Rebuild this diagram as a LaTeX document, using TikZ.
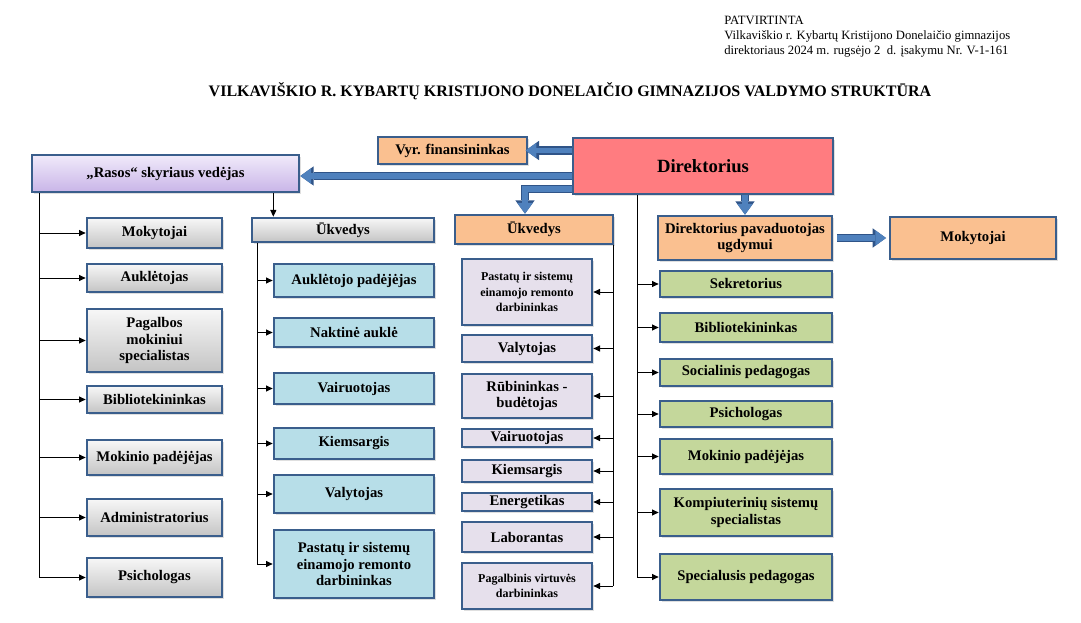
\documentclass[tikz,border=0pt]{standalone}
\usepackage{fontspec}
\setmainfont{Liberation Serif}
\usetikzlibrary{arrows.meta,calc,shadows}

\definecolor{edgeblue}{HTML}{3A5E8C}
\definecolor{arrowfill}{HTML}{4F81BD}
\definecolor{arrowedge}{HTML}{2F5488}
\definecolor{dirpink}{HTML}{FF7C80}
\definecolor{peach}{HTML}{FAC090}
\definecolor{lightblue}{HTML}{B7DEE8}
\definecolor{lavender}{HTML}{E6E0EC}
\definecolor{leafgreen}{HTML}{C4D79B}
\definecolor{grtop}{HTML}{F7F7F7}
\definecolor{grbot}{HTML}{C4C4C4}
\definecolor{rasostop}{HTML}{F0EAFA}
\definecolor{rasosbot}{HTML}{C9B5E8}

\def\px{0.75pt}

\tikzset{
  box/.style={draw=edgeblue, line width=2pt, inner sep=1pt, align=center,
    font=\bfseries\fontsize{11}{12.5}\selectfont,
    drop shadow={opacity=0.25, shadow xshift=1.2pt, shadow yshift=-1.2pt}},
  graybox/.style={box, top color=grtop, bottom color=grbot, minimum width=135*\px},
  bluebox/.style={box, fill=lightblue, minimum width=160*\px},
  lavbox/.style={box, fill=lavender, minimum width=130*\px},
  smalltext/.style={font=\bfseries\fontsize{9}{11.5}\selectfont},
  greenbox/.style={box, fill=leafgreen, minimum width=172*\px},
  peachbox/.style={box, fill=peach},
  thinarrow/.style={line width=0.7pt, -{Triangle[length=5pt,width=4.5pt]}},
  trunk/.style={line width=0.7pt},
  bigarrow/.style={draw=arrowfill, line width=4.4pt, line join=miter,
    -{Triangle[length=8pt,width=11.5pt,line width=0pt]},
    preaction={draw=arrowedge, line width=6.2pt, line join=miter,
      -{Triangle[length=10pt,width=14.5pt,line width=0pt]}}},
}

\begin{document}
\begin{tikzpicture}[x=0.75pt,y=-0.75pt]
\useasboundingbox (0,0) rectangle (1081,623);

% header
\node[anchor=north west, align=left, inner sep=0pt,
  font=\fontsize{9.5}{11.25}\selectfont] (hdr) at (724,16)
  {PATVIRTINTA\\Vilkaviškio r. Kybartų Kristijono Donelaičio gimnazijos\\direktoriaus 2024 m. rugsėjo 2\ \ d. įsakymu Nr. V-1-161};
\node[font=\bfseries\fontsize{12}{14}\selectfont] (title) at (570,91)
  {VILKAVIŠKIO R. KYBARTŲ KRISTIJONO DONELAIČIO GIMNAZIJOS VALDYMO STRUKTŪRA};

% top row
\node[box, fill=dirpink, minimum width=260*\px, minimum height=56*\px,
  font=\bfseries\fontsize{14}{16}\selectfont] (dir) at (703,166) {Direktorius};
\node[peachbox, minimum width=149*\px, minimum height=27*\px] (vyr) at (452.5,150.5) {Vyr. finansininkas};
\node[box, top color=rasostop, bottom color=rasosbot, minimum width=267*\px,
  minimum height=37*\px] (rasos) at (165.5,173.5) {„Rasos“ skyriaus vedėjas};

% second row
\node[graybox, minimum width=182*\px, minimum height=24*\px] (ukv1) at (343,230) {Ūkvedys};
\node[peachbox, minimum width=158*\px, minimum height=29*\px] (ukv2) at (534,229.5) {Ūkvedys};
\node[peachbox, minimum width=174*\px, minimum height=44*\px] (pav) at (745,238) {Direktorius pavaduotojas\\ugdymui};
\node[peachbox, minimum width=166*\px, minimum height=42*\px] (mok) at (973,238) {Mokytojai};

% column 1
\node[graybox, minimum height=30*\px] (g1) at (154.5,233) {Mokytojai};
\node[graybox, minimum height=28*\px] (g2) at (154.5,278) {Auklėtojas};
\node[graybox, minimum height=63*\px] (g3) at (154.5,340.5) {Pagalbos\\mokiniui\\specialistas};
\node[graybox, minimum height=27*\px] (g4) at (154.5,399.5) {Bibliotekininkas};
\node[graybox, minimum height=35*\px] (g5) at (154.5,457.5) {Mokinio padėjėjas};
\node[graybox, minimum height=37*\px] (g6) at (154.5,517.5) {Administratorius};
\node[graybox, minimum height=39*\px] (g7) at (154.5,577.5) {Psichologas};

% column 2
\node[bluebox, minimum height=33*\px] (b1) at (354,280.5) {Auklėtojo padėjėjas};
\node[bluebox, minimum height=29*\px] (b2) at (354,332.5) {Naktinė auklė};
\node[bluebox, minimum height=31*\px] (b3) at (354,388.5) {Vairuotojas};
\node[bluebox, minimum height=31*\px] (b4) at (354,443.5) {Kiemsargis};
\node[bluebox, minimum height=38*\px] (b5) at (354,494) {Valytojas};
\node[bluebox, minimum height=68*\px] (b6) at (354,564) {Pastatų ir sistemų\\einamojo remonto\\darbininkas};

% column 3
\node[lavbox, smalltext, minimum height=66*\px] (l1) at (527,292) {Pastatų ir sistemų\\einamojo remonto\\darbininkas};
\node[lavbox, minimum height=27*\px] (l2) at (527,348.5) {Valytojas};
\node[lavbox, minimum height=44*\px] (l3) at (527,396) {Rūbininkas -\\budėtojas};
\node[lavbox, minimum height=18*\px] (l4) at (527,438) {Vairuotojas};
\node[lavbox, minimum height=22*\px] (l5) at (527,471) {Kiemsargis};
\node[lavbox, minimum height=18*\px] (l6) at (527,502) {Energetikas};
\node[lavbox, minimum height=30*\px] (l7) at (527,537) {Laborantas};
\node[lavbox, smalltext, minimum height=46*\px] (l8) at (527,586) {Pagalbinis virtuvės\\darbininkas};

% column 4
\node[greenbox, minimum height=26*\px] (e1) at (746,284) {Sekretorius};
\node[greenbox, minimum height=29*\px] (e2) at (746,327.5) {Bibliotekininkas};
\node[greenbox, minimum height=27*\px] (e3) at (746,372.5) {Socialinis pedagogas};
\node[greenbox, minimum height=26*\px] (e4) at (746,414) {Psichologas};
\node[greenbox, minimum height=35*\px] (e5) at (746,456.5) {Mokinio padėjėjas};
\node[greenbox, minimum height=47*\px] (e6) at (746,512.5) {Kompiuterinių sistemų\\specialistas};
\node[greenbox, minimum height=46*\px] (e7) at (746,577) {Specialusis pedagogas};

% block arrows from director
\draw[bigarrow] (dir.west |- vyr.east) -- ([xshift=-2pt]vyr.east);
\draw[bigarrow] ($(dir.west)+(0,10)$) -- ($(rasos.east)+(0,2.5)$);
\draw[bigarrow] ($(dir.west)+(0,23)$) -| ($(ukv2.north)+(-9,0)$);
\draw[bigarrow] (dir.south -| pav.north) -- (pav.north);
\draw[bigarrow] ([xshift=3pt]pav.east) -- ([xshift=-2pt]mok.west);

% thin connectors
\coordinate (t1) at ($(rasos.south west)+(9,0)$);
\coordinate (r2) at ($(rasos.south east)+(-27,0)$);
\coordinate (t2) at (257,243);
\coordinate (t3) at (613,245);
\coordinate (t4) at (637,195);

\draw[trunk] (t1) -- (t1 |- g7.west);
\draw[thinarrow] (r2) -- (r2 |- ukv1.north);
\draw[trunk] (t2) -- (t2 |- b6.west);
\draw[trunk] (t3) -- (t3 |- l8.east);
\draw[trunk] (t4) -- (t4 |- e7.west);

\foreach \n in {g1,g2,g3,g4,g5,g6,g7}
  \draw[thinarrow] (t1 |- \n.west) -- (\n.west);
\foreach \n in {b1,b2,b3,b4,b5,b6}
  \draw[thinarrow] (t2 |- \n.west) -- (\n.west);
\foreach \n in {l1,l2,l3,l4,l5,l6,l7,l8}
  \draw[thinarrow] (t3 |- \n.east) -- (\n.east);
\foreach \n in {e1,e2,e3,e4,e5,e6,e7}
  \draw[thinarrow] (t4 |- \n.west) -- (\n.west);
\end{tikzpicture}
\end{document}
